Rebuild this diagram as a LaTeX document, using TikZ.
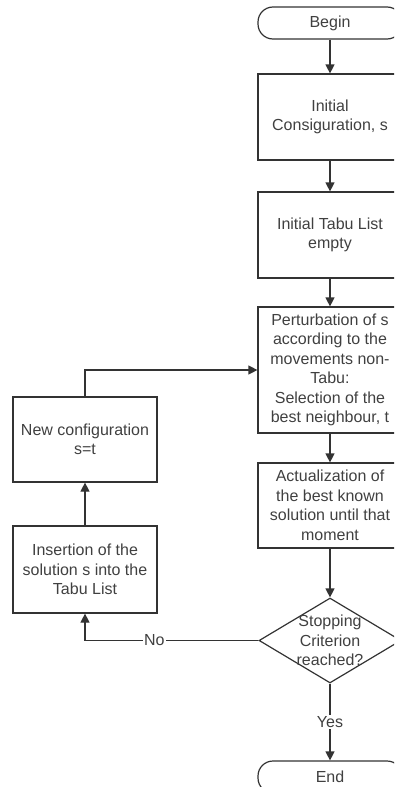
\documentclass[tikz,border=0pt]{standalone}
\usepackage{fontspec}
\setmainfont{Liberation Sans}
\usetikzlibrary{arrows.meta,shapes.geometric,positioning}

\begin{document}
\begin{tikzpicture}[x=1pt,y=-1pt,->,>={Triangle[length=9pt,width=9pt]},line width=1.2pt,draw=black!80]
\fontsize{16}{19.5}\selectfont
\tikzstyle{step box}=[rectangle, draw=black!80, line width=1.2pt, text=black!75, align=center, minimum width=144pt, inner sep=0pt]
\tikzstyle{term}=[step box, rounded corners=15pt, minimum height=32pt]
\tikzstyle{test}=[diamond, draw=black!80, line width=1.2pt, minimum width=142pt, minimum height=85pt, inner sep=0pt]
\tikzstyle{lbl}=[fill=white, text=black!75, inner sep=1pt]
\clip (0,0) rectangle (394,787);
% right column
\node[term] (begin) at (330,23) {Begin};
\node[step box, minimum height=86pt] (init) at (330,117) {Initial\\Consiguration, s};
\node[step box, minimum height=86pt] (tabu) at (330,235) {Initial Tabu List\\empty};
\node[step box, minimum height=126pt] (perturb) at (330,370) {Perturbation of s\\according to the\\movements non-\\Tabu:\\Selection of the\\best neighbour, t};
\node[step box, minimum height=85pt] (actual) at (330,505.5) {Actualization of\\the best known\\solution until that\\moment};
\node[test, label={[text=black!75, align=center]center:Stopping\\Criterion\\reached?}] (stop) at (330,640.5) {};
\node[term] (end) at (330,777) {End};
% left column
\node[step box, minimum height=85pt] (newconf) at (85,439.5) {New configuration\\s=t};
\node[step box, minimum height=87pt] (insert) at (85,569.5) {Insertion of the\\solution s into the\\Tabu List};
\foreach \a/\b in {begin/init,init/tabu,tabu/perturb,perturb/actual,actual/stop}
    \path (\a) edge (\b);
\path (stop) edge node[lbl]{Yes} (end);
\draw (stop.west) -| node[lbl, pos=0.3]{No} (insert);
\path (insert) edge (newconf);
\draw (newconf) |- (perturb);
\end{tikzpicture}
\end{document}
